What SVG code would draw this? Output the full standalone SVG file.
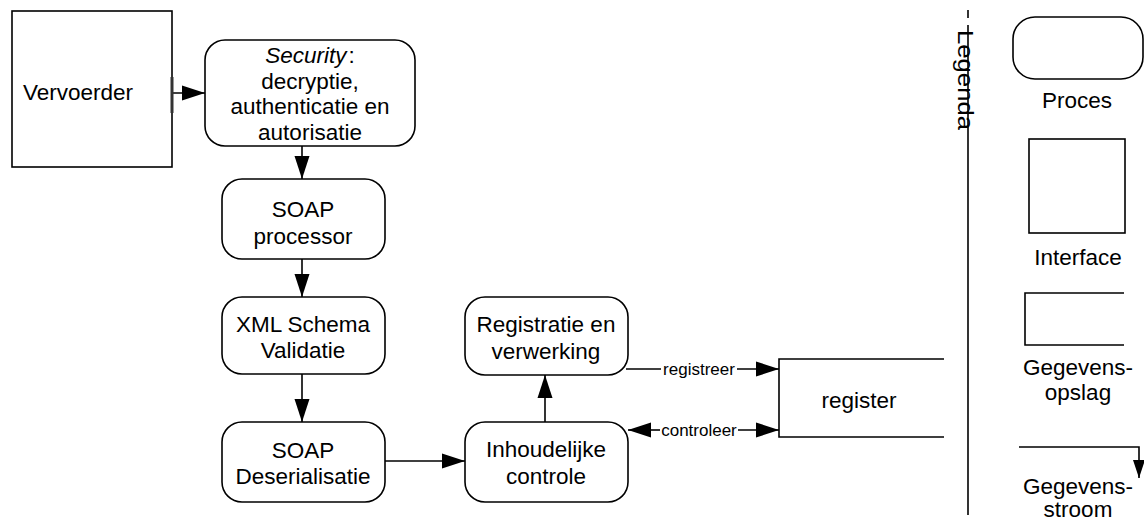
<svg xmlns="http://www.w3.org/2000/svg" width="1144" height="521" viewBox="0 0 1144 521">
<style>
.box{fill:#fff;stroke:#000;stroke-width:1.6}
.ln{fill:none;stroke:#000;stroke-width:1.6}
.t{font-family:"Liberation Sans",Arial,sans-serif;font-size:22.5px;fill:#000;text-anchor:middle}
.s{font-family:"Liberation Sans",Arial,sans-serif;font-size:17px;fill:#000;text-anchor:middle}
</style>
<defs>
<marker id="ah" markerUnits="userSpaceOnUse" markerWidth="24" markerHeight="16" refX="23" refY="8" orient="auto">
<path d="M0,0.5 L23,8 L0,15.5 z" fill="#000"/>
</marker>
<marker id="ahs" markerUnits="userSpaceOnUse" markerWidth="19" markerHeight="13" refX="18" refY="6.5" orient="auto">
<path d="M0,0.5 L18,6.5 L0,12.5 z" fill="#000"/>
</marker>
</defs>
<rect width="1144" height="521" fill="#fff"/>

<g id="connectors">
<path class="ln" d="M172,93 H205" marker-end="url(#ah)"/>
<path class="ln" d="M302,146 V179" marker-end="url(#ah)"/>
<path class="ln" d="M302,259 V297" marker-end="url(#ah)"/>
<path class="ln" d="M302,374 V422" marker-end="url(#ah)"/>
<path class="ln" d="M385,461 H465" marker-end="url(#ah)"/>
<path class="ln" d="M545,422 V375" marker-end="url(#ah)"/>
<path class="ln" d="M626,369 H661"/>
<path class="ln" d="M737,369 H779" marker-end="url(#ah)"/>
<text class="s" x="699" y="375">registreer</text>
<path class="ln" d="M660,430 H628" marker-end="url(#ah)"/>
<path class="ln" d="M738,430 H779" marker-end="url(#ah)"/>
<text class="s" x="699" y="436">controleer</text>
</g>

<g id="vervoerder">
<rect class="box" x="12" y="11" width="160" height="156"/>
<line x1="172" y1="77" x2="172" y2="113" stroke="#333" stroke-width="3"/>
<text class="t" x="23" y="100" style="text-anchor:start">Vervoerder</text>
</g>

<g id="security">
<rect class="box" x="205" y="40" width="210" height="106" rx="20"/>
<text class="t" x="310" y="63"><tspan font-style="italic">Security</tspan><tspan dx="2">:</tspan></text>
<text class="t" x="310" y="88.5">decryptie,</text>
<text class="t" x="310" y="114">authenticatie en</text>
<text class="t" x="310" y="140">autorisatie</text>
</g>

<g id="soap-processor">
<rect class="box" x="222" y="179" width="163" height="80" rx="20"/>
<text class="t" x="303" y="217">SOAP</text>
<text class="t" x="303" y="243.5">processor</text>
</g>

<g id="xml-schema">
<rect class="box" x="222" y="297" width="163" height="77" rx="20"/>
<text class="t" x="303" y="332">XML Schema</text>
<text class="t" x="303" y="358">Validatie</text>
</g>

<g id="soap-deser">
<rect class="box" x="222" y="422" width="163" height="80" rx="20"/>
<text class="t" x="303" y="457.5">SOAP</text>
<text class="t" x="303" y="483.5">Deserialisatie</text>
</g>

<g id="inhoudelijke">
<rect class="box" x="465" y="422" width="163" height="80" rx="20"/>
<text class="t" x="546" y="457">Inhoudelijke</text>
<text class="t" x="546" y="483.5">controle</text>
</g>

<g id="registratie">
<rect class="box" x="465" y="297" width="163" height="78" rx="20"/>
<text class="t" x="546" y="332">Registratie en</text>
<text class="t" x="546" y="359">verwerking</text>
</g>

<g id="register">
<path class="ln" d="M944,359 H779 V437 H944"/>
<text class="t" x="859" y="408">register</text>
</g>

<g id="legend">
<line x1="968" y1="10" x2="968" y2="18" stroke="#000" stroke-width="1.6"/>
<line x1="968" y1="25" x2="968" y2="515" stroke="#000" stroke-width="1.6"/>
<text transform="translate(958,30) rotate(90)" font-family="Liberation Sans, Arial, sans-serif" font-size="22" textLength="100" lengthAdjust="spacingAndGlyphs" fill="#000">Legenda</text>
<rect class="box" x="1013" y="17" width="130" height="62" rx="22"/>
<text class="t" x="1077" y="108">Proces</text>
<rect class="box" x="1029" y="139" width="96" height="94"/>
<text class="t" x="1078" y="265">Interface</text>
<path class="ln" d="M1124,293 H1025 V345 H1124"/>
<text class="t" x="1078" y="375">Gegevens-</text>
<text class="t" x="1078" y="400">opslag</text>
<path class="ln" d="M1019,447 H1139 V478" marker-end="url(#ahs)"/>
<text class="t" x="1078" y="494">Gegevens-</text>
<text class="t" x="1078" y="517">stroom</text>
</g>
</svg>
